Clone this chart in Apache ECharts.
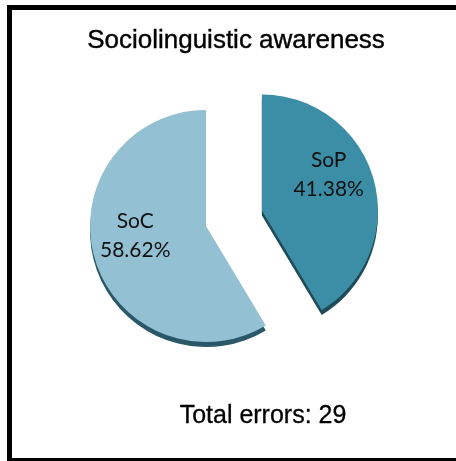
<!DOCTYPE html>
<html>
<head>
<meta charset="utf-8">
<style>
  html, body { margin: 0; padding: 0; background: #ffffff; }
  #chart { width: 456px; height: 461px; }
</style>
<script src="https://cdn.jsdelivr.net/npm/echarts@6/dist/echarts.min.js"></script>
</head>
<body>
<div id="chart"></div>
<script>
// Error categories and their counts (29 errors in total)
const categories = ['SoP', 'SoC'];
const errorCounts = [12, 17];
const sliceColors = ['#3b8ea5', '#93c0d3'];
const edgeColors = ['#1f4b59', '#2a5868'];
const chartTitle = 'Sociolinguistic awareness';
const totalText = 'Total errors: 29';

const pieCenter = [206, 226];
const pieRadius = 116;
const explode = 58;
const depth = 5;

// Slice data; the SoP slice is pulled out of the pie
function sliceData(colors) {
  return categories.map((name, i) => ({
    name: name,
    value: errorCounts[i],
    selected: i === 0,
    itemStyle: { color: colors[i] }
  }));
}

const labelShift = [[8, -19], [-12, -7]];

const chart = echarts.init(document.getElementById('chart'), null, { renderer: 'canvas' });
chart.setOption({
  backgroundColor: '#ffffff',
  animation: false,
  series: [
    {
      // darker copy underneath gives the slices some thickness
      type: 'pie',
      silent: true,
      z: 1,
      center: [pieCenter[0], pieCenter[1] + depth],
      radius: pieRadius,
      startAngle: 90,
      clockwise: true,
      selectedMode: 'single',
      selectedOffset: explode,
      label: { show: false },
      labelLine: { show: false },
      itemStyle: { borderWidth: 0 },
      select: { itemStyle: { borderWidth: 0 } },
      emphasis: { disabled: true },
      data: sliceData(edgeColors)
    },
    {
      type: 'pie',
      z: 2,
      center: pieCenter,
      radius: pieRadius,
      startAngle: 90,
      clockwise: true,
      selectedMode: 'single',
      selectedOffset: explode,
      itemStyle: { borderWidth: 0 },
      select: { itemStyle: { borderWidth: 0 } },
      emphasis: { disabled: true },
      label: {
        show: true,
        position: 'inside',
        formatter: '{b}\n{d}%',
        color: '#111111',
        fontFamily: 'Lato',
        fontSize: 21,
        lineHeight: 29
      },
      labelLine: { show: false },
      labelLayout: function (params) {
        const s = labelShift[params.dataIndex];
        return { dx: s[0], dy: s[1] };
      },
      data: sliceData(sliceColors)
    }
  ],
  graphic: [
    // frame: left, top and bottom rules
    { type: 'rect', shape: { x: 7, y: 5, width: 5, height: 456 }, style: { fill: '#000000' }, silent: true },
    { type: 'rect', shape: { x: 7, y: 5, width: 449, height: 5 }, style: { fill: '#000000' }, silent: true },
    { type: 'rect', shape: { x: 7, y: 458, width: 449, height: 3 }, style: { fill: '#000000' }, silent: true },
    {
      type: 'text', x: 236, y: 41, silent: true,
      style: {
        text: chartTitle, fill: '#000000',
        font: '26px "Liberation Sans", Arial, sans-serif',
        align: 'center', verticalAlign: 'middle',
        stroke: '#000000', lineWidth: 0.4
      }
    },
    {
      type: 'text', x: 263, y: 416, silent: true,
      style: {
        text: totalText, fill: '#000000',
        font: '25px "Liberation Sans", Arial, sans-serif',
        align: 'center', verticalAlign: 'middle',
        stroke: '#000000', lineWidth: 0.3
      }
    }
  ]
});
</script>
</body>
</html>
